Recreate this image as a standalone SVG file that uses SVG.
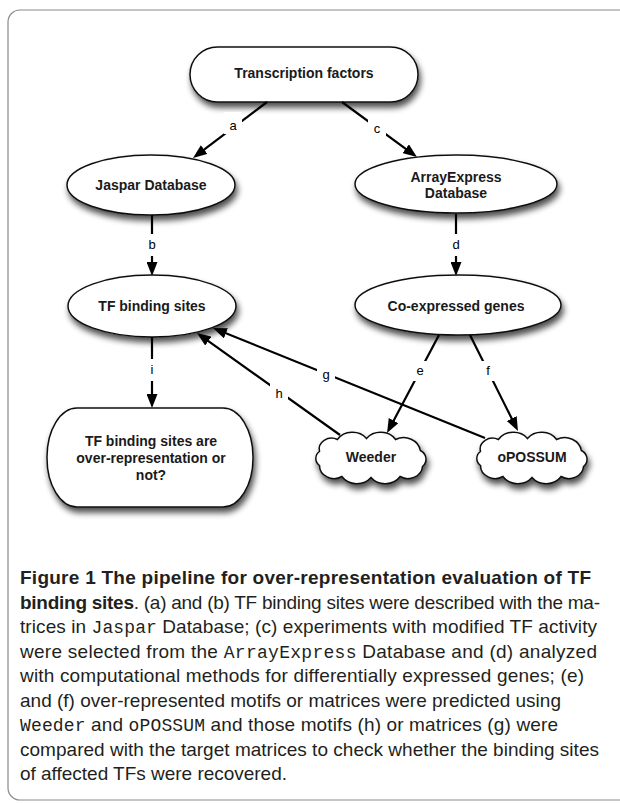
<svg xmlns="http://www.w3.org/2000/svg" xmlns:xlink="http://www.w3.org/1999/xlink" width="620" height="803" viewBox="0 0 620 803">
<style>
.shape{fill:#fff;stroke:#111;stroke-width:1.5;filter:url(#sh)}
.nt{font-family:"Liberation Sans",Arial,Helvetica,sans-serif;font-weight:bold;font-size:14px;fill:#1a1a1a;text-anchor:middle}
.edge{stroke:#000;stroke-width:2.2;fill:none;marker-end:url(#ah)}
.lbg{fill:#fff}
.lt{font-family:"Liberation Sans",Arial,Helvetica,sans-serif;font-size:13px;fill:#000;text-anchor:middle}
.cap{font-family:"Liberation Sans",Arial,Helvetica,sans-serif;font-size:19px;fill:#231f20}
.b{font-weight:bold}
.m{font-family:"Liberation Mono","Courier New",monospace;font-size:18px}
</style>
<defs>
<filter id="sh" x="-20%" y="-30%" width="150%" height="180%">
<feGaussianBlur in="SourceAlpha" stdDeviation="3"/>
<feOffset dx="2" dy="5" result="o"/>
<feComponentTransfer><feFuncA type="linear" slope="0.7"/></feComponentTransfer>
<feMerge><feMergeNode/><feMergeNode in="SourceGraphic"/></feMerge>
</filter>
<marker id="ah" viewBox="0 0 14 11" refX="6" refY="5.5" markerWidth="14" markerHeight="11" markerUnits="userSpaceOnUse" orient="auto">
<path d="M0,0 L14,5.5 L0,11 z" fill="#000"/>
</marker>
<path id="cloud" d="M -51.5,-6 A 12.3 11 0 0 1 -33.6,-18 A 17.9 16 0 0 1 -4.5,-19 A 17.9 16 0 0 1 24.6,-18 A 16.8 15 0 0 1 49.3,-7 A 11.2 10 0 0 1 51.5,9 A 14.6 13 0 0 1 29.1,19 A 17.9 16 0 0 1 0,20 A 17.9 16 0 0 1 -29.1,19 A 14.6 13 0 0 1 -51.5,8 A 10 9 0 0 1 -51.5,-6 Z"/>
</defs>
<rect x="0" y="0" width="620" height="803" fill="#fff"/>
<rect x="8" y="10" width="700" height="790" rx="12" ry="12" fill="none" stroke="#8a8a8a" stroke-width="1.2"/>

<g id="tf">
<rect class="shape" x="190" y="47" width="228" height="55" rx="27.5" ry="27.5"/>
<text class="nt" x="304" y="78">Transcription factors</text>
</g>
<g id="jaspar">
<ellipse class="shape" cx="151" cy="185" rx="84" ry="30"/>
<text class="nt" x="151" y="190">Jaspar Database</text>
</g>
<g id="arrayexpress">
<ellipse class="shape" cx="456" cy="184" rx="101" ry="29"/>
<text class="nt" x="456" y="182">ArrayExpress</text>
<text class="nt" x="456" y="198">Database</text>
</g>
<g id="tfbs">
<ellipse class="shape" cx="152" cy="306" rx="84" ry="31"/>
<text class="nt" x="152" y="311">TF binding sites</text>
</g>
<g id="coexp">
<ellipse class="shape" cx="458" cy="305" rx="103" ry="30"/>
<text class="nt" x="456" y="311">Co-expressed genes</text>
</g>
<g id="result">
<rect class="shape" x="47" y="408" width="206" height="99" rx="30" ry="49"/>
<text class="nt" x="151" y="446">TF binding sites are</text>
<text class="nt" x="151" y="463">over-representation or</text>
<text class="nt" x="151" y="480">not?</text>
</g>
<g id="weeder">
<use class="shape" xlink:href="#cloud" href="#cloud" transform="translate(371,457.5)"/>
<text class="nt" x="371" y="462">Weeder</text>
</g>
<g id="opossum">
<use class="shape" xlink:href="#cloud" href="#cloud" transform="translate(532,457.5)"/>
<text class="nt" x="532" y="462">oPOSSUM</text>
</g>

<g id="connectors">
<line class="edge" x1="267" y1="102" x2="199.4" y2="153.2"/>
<line class="edge" x1="342" y1="102" x2="410.5" y2="152.3"/>
<line class="edge" x1="152" y1="215" x2="152" y2="268"/>
<line class="edge" x1="456" y1="214" x2="456" y2="268"/>
<line class="edge" x1="152" y1="337" x2="152" y2="400"/>
<line class="edge" x1="439" y1="335" x2="390.8" y2="425.9"/>
<line class="edge" x1="470" y1="335" x2="514.4" y2="423.9"/>
<line class="edge" x1="485" y1="438" x2="220.4" y2="331"/>
<line class="edge" x1="340" y1="435" x2="203.5" y2="337.6"/>
<rect class="lbg" x="224" y="112" width="18" height="22"/>
<text class="lt" x="233" y="130">a</text>
<rect class="lbg" x="368" y="116" width="18" height="22"/>
<text class="lt" x="377" y="133">c</text>
<rect class="lbg" x="143" y="234" width="18" height="22"/>
<text class="lt" x="152" y="249">b</text>
<rect class="lbg" x="447" y="234" width="18" height="22"/>
<text class="lt" x="456" y="249">d</text>
<rect class="lbg" x="145" y="359" width="14" height="22"/>
<text class="lt" x="152" y="374">i</text>
<rect class="lbg" x="411" y="361" width="18" height="20"/>
<text class="lt" x="420" y="375">e</text>
<rect class="lbg" x="480" y="361" width="16" height="20"/>
<text class="lt" x="488" y="375">f</text>
<rect class="lbg" x="317" y="364" width="18" height="22"/>
<text class="lt" x="326" y="379">g</text>
<rect class="lbg" x="270" y="383" width="18" height="20"/>
<text class="lt" x="279" y="398">h</text>
</g>

<g id="caption">
<text class="cap b" x="20" y="584" textLength="571" lengthAdjust="spacing">Figure 1 The pipeline for over-representation evaluation of TF</text>
<text class="cap" x="20" y="608.5" textLength="580" lengthAdjust="spacing"><tspan class="b">binding sites</tspan>. (a) and (b) TF binding sites were described with the ma-</text>
<text class="cap" x="20" y="633" textLength="577" lengthAdjust="spacing">trices in <tspan class="m">Jaspar</tspan> Database; (c) experiments with modified TF activity</text>
<text class="cap" x="20" y="657.5" textLength="577" lengthAdjust="spacing">were selected from the <tspan class="m">ArrayExpress</tspan> Database and (d) analyzed</text>
<text class="cap" x="20" y="682" textLength="564" lengthAdjust="spacing">with computational methods for differentially expressed genes; (e)</text>
<text class="cap" x="20" y="706.5" textLength="541" lengthAdjust="spacing">and (f) over-represented motifs or matrices were predicted using</text>
<text class="cap" x="20" y="731" textLength="538" lengthAdjust="spacing"><tspan class="m">Weeder</tspan> and <tspan class="m">oPOSSUM</tspan> and those motifs (h) or matrices (g) were</text>
<text class="cap" x="20" y="755.5" textLength="579" lengthAdjust="spacing">compared with the target matrices to check whether the binding sites</text>
<text class="cap" x="20" y="780" textLength="267" lengthAdjust="spacing">of affected TFs were recovered.</text>
</g>
</svg>
